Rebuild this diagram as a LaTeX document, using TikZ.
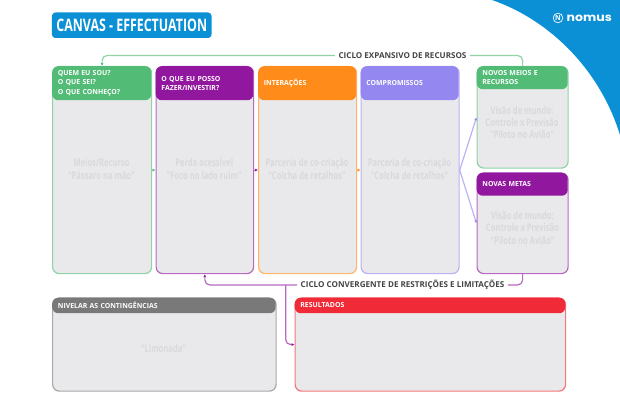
\documentclass[tikz,border=0pt]{standalone}
\usepackage{fontspec}
\setmainfont{Open Sans}
\newfontfamily\condfont[FakeStretch=0.72]{Open Sans Bold}
\newfontfamily\logofont[FakeStretch=1.1]{Poppins}
\usepackage{xcolor}
\definecolor{nomusblue}{HTML}{0B90D6}
\definecolor{cvgreen}{HTML}{52BC77}
\definecolor{cvpurple}{HTML}{92179F}
\definecolor{cvorange}{HTML}{FF8C1A}
\definecolor{cvlilac}{HTML}{9488F0}
\definecolor{cvred}{HTML}{F02B37}
\definecolor{cvgray}{HTML}{797979}
\definecolor{cvfill}{HTML}{E9E9EB}
\definecolor{cvghost}{HTML}{D9D9DD}
\definecolor{cvlabel}{HTML}{444444}
\usetikzlibrary{arrows.meta,positioning}

\begin{document}
\begin{tikzpicture}[
      x=0.03cm, y=-0.03cm,
      cell/.style={draw=#1!65!white, fill=cvfill, line width=0.036cm, rounded corners=0.2cm, anchor=north west, inner sep=0pt},
      head/.style={fill=#1, text=white, rounded corners=0.18cm, anchor=north west, align=left, inner xsep=0.17cm, inner ysep=0pt, font=\fontsize{5.9}{7.8}\selectfont\bfseries},
      ghost/.style={text=cvghost, align=center, font=\fontsize{9}{10.4}\selectfont\condfont},
      cyclelabel/.style={text=cvlabel, font=\fontsize{6.9}{8}\selectfont\bfseries, inner xsep=0.1cm, inner ysep=0pt},
      link/.style={draw=#1!65!white, line width=0.036cm, rounded corners=0.15cm},
      arr/.style={link=#1, -{Latex[length=0.09cm,width=0.09cm,#1]}}
    ]
    \useasboundingbox (0,0) rectangle (620,405);
    \fill[nomusblue] (492,0) .. controls (550,20) and (600,70) .. (620,135) -- (620,0) -- cycle;
    \node[circle, draw=white, line width=0.02cm, text=white, inner sep=0pt, minimum size=0.29cm, font=\fontsize{6}{6}\selectfont\bfseries] (logoicon) at (558,18) {N};
    \node[text=white, inner sep=0pt, font=\fontsize{9.7}{10}\selectfont\logofont\bfseries, right=0.1cm of logoicon] (logotext) {nomus};

    \node[fill=nomusblue, text=white, rounded corners=0.1cm, minimum width=4.785cm, minimum height=0.765cm, inner sep=0pt, font=\fontsize{14.7}{15}\selectfont\condfont] (title) at (131.75,25.25) {CANVAS - EFFECTUATION};

    % top row
    \node[cell=cvgreen, minimum width=2.97cm, minimum height=6.21cm] (quem) at (52,66) {};
    \node[cell=cvpurple, minimum width=2.925cm, minimum height=6.21cm] (posso) at (155.5,66) {};
    \node[cell=cvorange, minimum width=2.94cm, minimum height=6.21cm] (inter) at (258,66) {};
    \node[cell=cvlilac, minimum width=2.94cm, minimum height=6.21cm] (comp) at (360.5,66) {};
    \node[cell=cvgreen, minimum width=2.73cm, minimum height=3.045cm] (meios) at (476.5,66) {};
    \node[cell=cvpurple, minimum width=2.73cm, minimum height=3.015cm] (metas) at (476.5,172.5) {};
    \node[head=cvgreen, text width=2.63cm, minimum height=1.02cm] (quemhead) at (52,66) {QUEM EU SOU?\\O QUE SEI?\\O QUE CONHEÇO?};
    \node[head=cvpurple, text width=2.585cm, minimum height=1.02cm] (possohead) at (155.5,66) {O QUE EU POSSO\\FAZER/INVESTIR?};
    \node[head=cvorange, text width=2.6cm, minimum height=1.02cm] (interhead) at (258,66) {INTERAÇÕES};
    \node[head=cvlilac, text width=2.6cm, minimum height=1.02cm] (comphead) at (360.5,66) {COMPROMISSOS};
    \node[head=cvgreen, text width=2.39cm, minimum height=0.69cm] (meioshead) at (476.5,66) {NOVOS MEIOS E\\RECURSOS};
    \node[head=cvpurple, text width=2.39cm, minimum height=0.69cm] (metashead) at (476.5,172.5) {NOVAS METAS};
    \node[ghost] (quemtext) at (101.5,169) {Meios/Recurso\\"Pássaro na mão"};
    \node[ghost] (possotext) at (204.25,169) {Perda acessível\\"Foco no lado ruim"};
    \node[ghost] (intertext) at (307,169) {Parceria de co-criação\\"Colcha de retalhos"};
    \node[ghost] (comptext) at (409.5,169) {Parceria de co-criação\\"Colcha de retalhos"};
    \node[ghost] (meiostext) at (522,122.5) {Visão de mundo:\\Controle x Previsão\\"Piloto no Avião"};
    \node[ghost] (metastext) at (522.5,228) {Visão de mundo:\\Controle x Previsão\\"Piloto no Avião"};

    % bottom row
    \node[cell=cvgray, minimum width=6.705cm, minimum height=2.79cm] (nivelar) at (52,297.5) {};
    \node[cell=cvred, minimum width=8.115cm, minimum height=2.79cm] (result) at (294.5,297.5) {};
    \node[head=cvgray, text width=6.365cm, minimum height=0.465cm] (nivelarhead) at (52,297.5) {NIVELAR AS CONTINGÊNCIAS};
    \node[head=cvred, text width=7.775cm, minimum height=0.465cm] (resulthead) at (294.5,297.5) {RESULTADOS};
    \node[ghost] (nivelartext) at (163.5,348.5) {"Limonada"};

    % cycles
    \node[cyclelabel] (expansivo) at (402.5,55.5) {CICLO EXPANSIVO DE RECURSOS};
    \node[cyclelabel] (convergente) at (402.5,285) {CICLO CONVERGENTE DE RESTRIÇÕES E LIMITAÇÕES};
    \coordinate (split) at (285.7,285);
    \draw[link=cvgreen] (meios.north) |- (expansivo);
    \draw[arr=cvgreen] (expansivo) -| (quem.north);
    \draw[link=cvpurple] (metas.south) |- (convergente);
    \draw[arr=cvpurple] (convergente) -| (posso.south);
    \draw[arr=cvpurple] (split) |- (result.west);

    % steps
    \draw[arr=cvgreen, rounded corners=0pt] (quem.east) -- (posso.west);
    \draw[arr=cvpurple, rounded corners=0pt] (posso.east) -- (inter.west);
    \draw[arr=cvorange, rounded corners=0pt] (inter.east) -- (comp.west);
    \draw[arr=cvlilac, rounded corners=0pt] (comp.east) -- (meios.west);
    \draw[arr=cvlilac, rounded corners=0pt] (comp.east) -- (metas.west);
  \end{tikzpicture}
\end{document}
